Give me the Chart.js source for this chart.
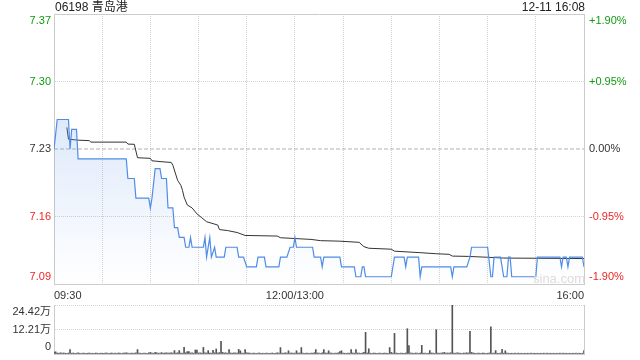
<!DOCTYPE html>
<html>
<head>
<meta charset="utf-8">
<script src="https://cdn.jsdelivr.net/npm/chart.js@4.4.1/dist/chart.umd.min.js"></script>
<style>
  body { margin: 0; background: #fff; }
  #wrap { position: relative; width: 640px; height: 360px; font-family: "Liberation Sans", Arial, "Noto Sans CJK SC", sans-serif; }
  #priceChart { position: absolute; left: 0; top: 0; }
  #volChart { position: absolute; left: 0; top: 300px; }
  .hd { position: absolute; top: 0; font-size: 12px; line-height: 14px; color: #222; }
  #name { left: 55px; }
  #time { right: 55px; }
  #mark { position: absolute; left: 533px; top: 271px; font-size: 13px; color: #dcdcdc; }
</style>
</head>
<body>
<div id="wrap">
  <canvas id="priceChart" width="640" height="300"></canvas>
  <canvas id="volChart" width="640" height="60"></canvas>
  <div class="hd" id="name">06198 青岛港</div>
  <div class="hd" id="time">12-11 16:08</div>
  <div id="mark">sina.com</div>
</div>
<script>
// minutes from 09:30, lunch break removed (330 trading minutes)
const preClose = 7.23;
const xTickMinutes = [0, 30, 60, 90, 120, 150, 180, 210, 240, 270, 300, 330];
const xTickLabels = ['09:30', '', '', '', '', '12:00/13:00', '', '', '', '', '', '16:00'];
const priceTicks = [7.0926, 7.1613, 7.23, 7.2987, 7.3674];
const priceTickLabels = ['7.09', '7.16', '7.23', '7.30', '7.37'];
const pctTickLabels = ['-1.90%', '-0.95%', '0.00%', '+0.95%', '+1.90%'];
const volTicks = [0, 12.21, 24.42];
const volTickLabels = ['0', '12.21万', '24.42万'];

// price: minute where it changes, and the price
const priceMinutes = [0, 2, 9, 10, 11, 14, 15, 45, 46, 50, 51, 59, 60, 61, 63, 66, 67, 70, 71, 74,
  75, 77, 78, 81, 82, 84, 85, 86, 93, 94, 95, 97, 98, 100, 101, 106, 107, 114, 115, 118,
  120, 126, 127, 131, 132, 140, 141, 145, 147, 149, 150, 151, 161, 162, 166, 167, 168, 178, 179, 187,
  188, 191, 192, 193, 194, 210, 212, 218, 219, 220, 227, 228, 229, 247, 248, 249, 257, 259, 260, 270,
  272, 273, 274, 278, 280, 282, 283, 284, 285, 300, 301, 315, 316, 317, 319, 320, 321, 329, 330];
const priceValues = [7.23, 7.26, 7.26, 7.23, 7.25, 7.25, 7.22, 7.22, 7.20, 7.20, 7.18, 7.18, 7.17, 7.18, 7.21, 7.21, 7.20, 7.20, 7.17, 7.17,
  7.15, 7.15, 7.14, 7.14, 7.13, 7.13, 7.14, 7.13, 7.13, 7.14, 7.12, 7.14, 7.12, 7.13, 7.12, 7.12, 7.13, 7.13, 7.12, 7.12,
  7.11, 7.11, 7.12, 7.12, 7.11, 7.11, 7.12, 7.12, 7.13, 7.13, 7.14, 7.13, 7.13, 7.12, 7.12, 7.11, 7.12, 7.12, 7.11, 7.11,
  7.10, 7.10, 7.11, 7.11, 7.10, 7.10, 7.12, 7.12, 7.11, 7.12, 7.12, 7.10, 7.11, 7.11, 7.10, 7.11, 7.11, 7.12, 7.13, 7.13,
  7.10, 7.10, 7.12, 7.12, 7.10, 7.10, 7.12, 7.12, 7.10, 7.10, 7.12, 7.12, 7.11, 7.12, 7.12, 7.11, 7.12, 7.12, 7.11];

// average price line
const avgMinutes = [8, 9, 15, 22, 23, 45, 46, 50, 52, 60, 61, 66, 73, 74, 77, 79, 80, 81,
  83, 86, 89, 92, 95, 102, 103, 108, 114, 119, 139, 141, 152, 160, 166, 178, 190, 193, 196, 210,
  212, 228, 238, 246, 248, 258, 270, 280, 330];
const avgValues = [7.252, 7.240, 7.239, 7.2385, 7.237, 7.237, 7.235, 7.2348, 7.2211, 7.2205, 7.218, 7.2172, 7.2163, 7.2135, 7.198, 7.193, 7.188, 7.181,
  7.173, 7.170, 7.164, 7.160, 7.156, 7.1526, 7.148, 7.147, 7.145, 7.142, 7.1414, 7.1397, 7.1387, 7.138, 7.1367, 7.1362, 7.135, 7.1306, 7.129, 7.128,
  7.126, 7.1245, 7.1234, 7.1228, 7.121, 7.1207, 7.1198, 7.119, 7.1185];

// volume per minute, in 万
const volumes = [
  1.0, 1.1, 0.5, 0.4, 0.6, 0.4, 0.5, 0.4, 0.3, 0.5, 2.2, 0.4, 0.5, 0.3, 0.4, 0.6, 0.4, 0.3, 0.5, 0.4, 0.3, 0.4, 0.5, 0.3, 0.4, 0.3, 0.5, 0.4, 0.3, 0.4,
  0.4, 0.3, 0.5, 0.4, 0.3, 0.4, 0.5, 0.3, 0.4, 0.3, 0.5, 0.4, 0.3, 0.4, 0.5, 0.6, 0.4, 0.3, 0.5, 0.4, 0.4, 0.6, 2.2, 0.5, 0.4, 0.3, 0.5, 0.4, 0.3, 0.6,
  0.8, 0.5, 0.4, 0.8, 0.6, 0.4, 0.5, 0.7, 0.4, 0.5, 0.6, 0.4, 0.5, 0.6, 0.4, 1.7, 0.5, 0.6, 1.7, 0.5, 0.4, 3.3, 0.6, 1.2, 1.2, 0.5, 0.6, 0.4, 2.0, 2.0,
  0.5, 0.6, 0.4, 3.3, 0.6, 0.5, 1.7, 0.5, 0.4, 1.8, 0.6, 2.5, 0.5, 0.7, 6.3, 0.8, 0.5, 0.6, 0.4, 2.2, 0.5, 0.4, 0.6, 0.5, 0.4, 2.3, 1.6, 0.5, 0.4, 2.2,
  0.6, 0.5, 0.4, 0.3, 0.5, 0.4, 0.3, 0.4, 0.5, 0.3, 0.4, 0.3, 0.5, 0.4, 0.3, 0.4, 0.5, 0.3, 0.4, 0.6, 0.5, 3.2, 0.5, 0.4, 0.6, 0.5, 1.6, 0.4, 0.5, 0.4,
  0.5, 1.6, 0.4, 0.5, 3.2, 0.4, 0.3, 0.5, 0.4, 0.3, 0.5, 0.4, 0.6, 2.2, 0.5, 0.4, 0.3, 0.6, 2.2, 0.5, 0.4, 1.6, 0.5, 0.4, 0.3, 0.5, 0.4, 0.6, 1.2, 1.6,
  0.5, 0.4, 0.3, 0.5, 0.4, 2.2, 0.5, 0.4, 2.2, 0.5, 0.4, 0.3, 0.5, 0.8, 10.8, 0.5, 2.6, 0.4, 0.3, 0.5, 0.4, 0.3, 0.4, 0.5, 0.3, 0.4, 0.5, 0.4, 0.3, 3.2,
  0.8, 0.4, 10.3, 0.5, 0.4, 0.3, 0.5, 0.4, 0.3, 0.5, 12.6, 4.2, 0.5, 0.4, 0.3, 0.5, 0.4, 0.3, 0.5, 4.3, 0.4, 0.5, 0.3, 0.4, 1.7, 0.5, 0.4, 0.3, 12.1, 0.5,
  0.4, 0.5, 0.6, 0.8, 0.4, 0.5, 0.4, 0.6, 24.4, 0.5, 0.4, 0.6, 0.5, 0.4, 0.3, 0.5, 0.4, 0.6, 0.5, 11.3, 0.8, 0.5, 0.4, 0.3, 0.5, 0.4, 0.3, 0.5, 0.4, 0.3,
  0.4, 0.5, 13.6, 0.4, 0.5, 1.7, 0.4, 0.3, 0.5, 2.3, 0.4, 1.6, 0.5, 0.4, 0.3, 0.4, 0.3, 0.4, 0.3, 0.4, 0.3, 0.4, 0.3, 0.4, 0.3, 0.4, 0.3, 0.4, 0.3, 0.4,
  0.3, 0.4, 0.3, 0.4, 0.3, 0.4, 0.3, 0.4, 0.3, 0.4, 0.3, 0.4, 0.3, 0.4, 0.3, 0.4, 0.3, 0.4, 0.3, 0.4, 0.3, 0.4, 0.3, 0.4, 0.3, 0.4, 0.3, 0.4, 0.3, 0.4, 1.7
];

Chart.defaults.font.family = '"Liberation Sans", Arial, "Noto Sans CJK SC", sans-serif';
Chart.defaults.font.size = 11;

const gridDot = '#d2d2d2';
const frame = '#cccccc';
const none = 'rgba(0,0,0,0)';
const green = '#129a12';
const red = '#ee2424';

// first label sits above its line, last one below it
function edgeLabel(text, i, n) {
  if (i === 0) return [text, ''];
  if (i === n - 1) return ['', text];
  return text;
}
function priceColor(i) {
  if (i < 2) return red;
  if (i > 2) return green;
  return '#333';
}
// fixed axis sizes, no extra room for overhanging labels
function fitTo(w, h) {
  return function (s) {
    if (w !== null) s.width = w;
    if (h !== null) s.height = h;
    s.paddingTop = 0; s.paddingBottom = 0; s.paddingLeft = 0; s.paddingRight = 0;
  };
}

var priceChart = new Chart(document.getElementById('priceChart'), {
  type: 'line',
  data: {
    datasets: [{
      label: '价格',
      data: priceMinutes.map((m, i) => ({ x: m, y: priceValues[i] })),
      borderColor: '#4f8ce8',
      borderWidth: 1.2,
      pointRadius: 0,
      fill: 'start',
      backgroundColor: function (context) {
        const area = context.chart.chartArea;
        if (!area) return none;
        const g = context.chart.ctx.createLinearGradient(0, area.top, 0, area.bottom);
        g.addColorStop(0, 'rgba(120,165,235,0.4)');
        g.addColorStop(1, 'rgba(120,165,235,0)');
        return g;
      },
      order: 0
    }, {
      label: '均价',
      data: avgMinutes.map((m, i) => ({ x: m, y: avgValues[i] })),
      borderColor: '#333',
      borderWidth: 1,
      pointRadius: 0,
      fill: false,
      order: 1
    }, {
      label: '昨收',
      data: [{ x: 0, y: preClose }, { x: 330, y: preClose }],
      borderColor: '#b0b0b0',
      borderWidth: 1,
      borderDash: [4, 2],
      pointRadius: 0,
      fill: false,
      order: 2
    }]
  },
  options: {
    responsive: false,
    animation: false,
    events: [],
    layout: { padding: 0 },
    plugins: { legend: { display: false }, tooltip: { enabled: false } },
    scales: {
      x: {
        type: 'linear', position: 'bottom', min: 0, max: 330,
        afterBuildTicks: function (s) { s.ticks = xTickMinutes.map(v => ({ value: v })); },
        afterFit: fitTo(null, 16),
        ticks: { autoSkip: false, maxRotation: 0, align: 'inner', padding: 5, color: '#333',
          callback: (v, i) => xTickLabels[i] },
        grid: { color: c => (c.index === 0 || c.index === xTickMinutes.length - 1) ? none : gridDot, drawTicks: false },
        border: { display: true, color: frame, dash: [1, 1] }
      },
      x2: {
        type: 'linear', position: 'top', min: 0, max: 330,
        afterFit: fitTo(null, 14),
        ticks: { display: false },
        grid: { display: false },
        border: { display: true, color: frame }
      },
      y: {
        position: 'left', min: priceTicks[0], max: priceTicks[priceTicks.length - 1],
        afterBuildTicks: function (s) { s.ticks = priceTicks.map(v => ({ value: v })); },
        afterFit: fitTo(54, null),
        ticks: { autoSkip: false, padding: 3, color: c => priceColor(c.index),
          callback: (v, i) => edgeLabel(priceTickLabels[i], i, priceTicks.length) },
        grid: { color: c => (c.index === 0 || c.index === 2 || c.index === priceTicks.length - 1) ? none : gridDot, drawTicks: false },
        border: { display: true, color: frame, dash: [1, 1] }
      },
      y2: {
        position: 'right', min: priceTicks[0], max: priceTicks[priceTicks.length - 1],
        afterBuildTicks: function (s) { s.ticks = priceTicks.map(v => ({ value: v })); },
        afterFit: fitTo(56, null),
        ticks: { autoSkip: false, padding: 5, color: c => priceColor(c.index),
          callback: (v, i) => edgeLabel(pctTickLabels[i], i, priceTicks.length) },
        grid: { display: false, drawTicks: false },
        border: { display: true, color: frame }
      }
    }
  }
});

var volChart = new Chart(document.getElementById('volChart'), {
  type: 'bar',
  data: {
    datasets: [{
      label: '成交量',
      data: volumes.map((v, i) => ({ x: i, y: v })),
      backgroundColor: '#555',
      borderWidth: 0,
      barThickness: 1
    }]
  },
  options: {
    responsive: false,
    animation: false,
    events: [],
    layout: { padding: { top: 5 } },
    plugins: { legend: { display: false }, tooltip: { enabled: false } },
    scales: {
      x: {
        type: 'linear', min: 0, max: 330, offset: false,
        afterFit: fitTo(null, 6),
        ticks: { display: false },
        grid: { display: false },
        border: { display: true, color: frame }
      },
      y: {
        position: 'left', min: 0, max: volTicks[volTicks.length - 1],
        afterBuildTicks: function (s) { s.ticks = volTicks.map(v => ({ value: v })); },
        afterFit: fitTo(54, null),
        ticks: { autoSkip: false, padding: 3, color: '#333',
          callback: (v, i) => edgeLabel(volTickLabels[i], i, volTicks.length) },
        grid: { color: c => c.index === 0 ? none : gridDot, drawTicks: false },
        border: { display: true, color: frame, dash: [1, 1] }
      },
      y2: {
        position: 'right', min: 0, max: volTicks[volTicks.length - 1],
        afterFit: fitTo(56, null),
        ticks: { display: false },
        grid: { display: false },
        border: { display: true, color: frame }
      }
    }
  }
});
</script>
</body>
</html>
